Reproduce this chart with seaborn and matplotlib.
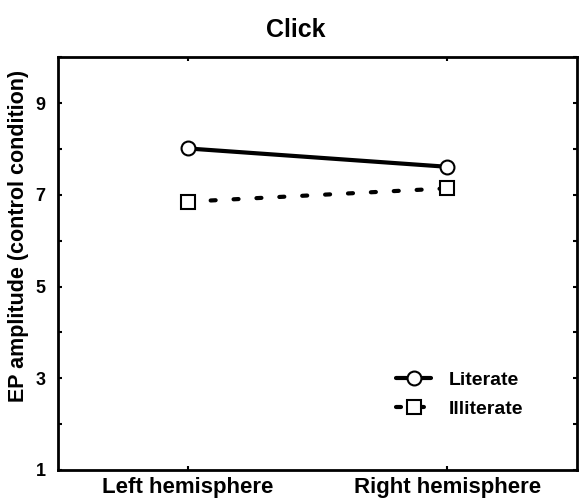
import pandas as pd
import matplotlib.pyplot as plt
import seaborn as sns
from matplotlib.ticker import MultipleLocator

# values
hemispheres = ["Left hemisphere", "Right hemisphere"]
literate = [8.01, 7.61]
illiterate = [6.85, 7.14]
groups = ["Literate", "Illiterate"]

df = pd.DataFrame({
    "hemisphere": hemispheres * 2,
    "amp": literate + illiterate,
    "group": [groups[0]] * 2 + [groups[1]] * 2,
})

sns.set_style("ticks")
plt.rcParams["font.family"] = ["Liberation Sans", "DejaVu Sans"]
plt.rcParams["font.weight"] = "bold"
plt.rcParams["text.color"] = "black"
plt.rcParams["axes.labelcolor"] = "black"
plt.rcParams["xtick.color"] = "black"
plt.rcParams["ytick.color"] = "black"
plt.rcParams["axes.edgecolor"] = "black"

fig = plt.figure(figsize=(5.8, 5.01), dpi=100)
ax = fig.add_axes([0.1, 0.0619, 0.895, 0.824])

sns.lineplot(data=df, x="hemisphere", y="amp", style="group",
             markers={"Literate": "o", "Illiterate": "s"},
             dashes={"Literate": "", "Illiterate": (1.2, 4.3)},
             color="black", linewidth=3, markersize=10,
             markerfacecolor="white", markeredgecolor="black",
             markeredgewidth=1.5, ax=ax)

for ln in ax.lines:
    ln.set_dash_capstyle("round")

ax.set_xlim(-0.5, 1.5)
ax.set_ylim(1, 10)
ax.set_yticks([1, 3, 5, 7, 9])
ax.yaxis.set_minor_locator(MultipleLocator(1))
ax.tick_params(which="both", direction="in", length=3, width=1.5,
               top=True, right=True)
ax.tick_params(axis="y", labelsize=13, pad=9)
ax.tick_params(axis="x", labelsize=16, pad=5)
for s in ax.spines.values():
    s.set_linewidth(2)
    s.set_color("black")

ax.set_xlabel("")
ax.set_ylabel("EP amplitude (control condition)", fontsize=15.5,
              fontweight="bold")
ax.yaxis.set_label_coords(-0.056, 0.567)
fig.suptitle("Click", x=0.51, y=0.965, fontsize=18, fontweight="bold")

leg = ax.legend(loc="lower right", bbox_to_anchor=(0.93, 0.083), frameon=False,
                fontsize=14, handlelength=1.8, handletextpad=0.9,
                labelspacing=0.6, title=None)
for t in leg.get_texts():
    t.set_fontweight("bold")

fig.savefig("out.png", dpi=100)
